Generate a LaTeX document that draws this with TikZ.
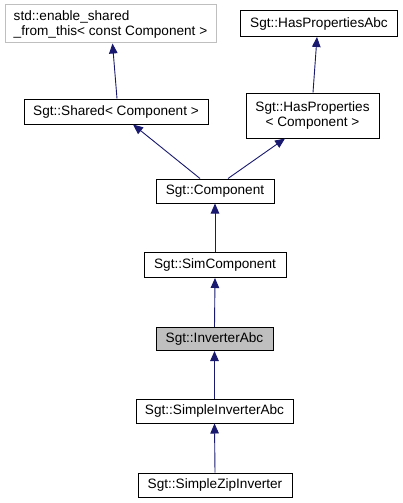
\documentclass[tikz,border=0pt]{standalone}
\usepackage{fontspec}
\setmainfont{Liberation Sans}
\usetikzlibrary{arrows.meta}
\definecolor{edgeblue}{HTML}{191970}
\definecolor{lightborder}{HTML}{BFBFBF}
\definecolor{grayfill}{HTML}{BFBFBF}
\begin{document}
\begin{tikzpicture}[x=1pt,y=-1pt,
  cls/.style={draw=black, fill=white, line width=1pt, inner sep=0pt, font=\fontsize{13.6}{15}\selectfont, align=center},
  inh/.style={draw=edgeblue, line width=0.9pt, -{Triangle[length=10pt,width=8.5pt]}, color=edgeblue}]
\useasboundingbox[fill=white] (0,0) rectangle (402,503);
\node[cls, draw=lightborder, align=left, minimum width=211pt, minimum height=38pt] (es) at (110.5,24) {std::enable\_shared\\\_from\_this< const Component >};
\node[cls, minimum width=157pt, minimum height=26pt] (hpa) at (319,23.5) {Sgt::HasPropertiesAbc};
\node[cls, minimum width=184pt, minimum height=25pt] (sh) at (116,111.5) {Sgt::Shared< Component >};
\node[cls, minimum width=133pt, minimum height=45pt] (hp) at (312.5,115.5) {Sgt::HasProperties\\< Component >};
\node[cls, minimum width=118pt, minimum height=24pt] (comp) at (215,191) {Sgt::Component};
\node[cls, minimum width=142pt, minimum height=25pt] (sim) at (215,265) {Sgt::SimComponent};
\node[cls, fill=grayfill, minimum width=117pt, minimum height=23pt] (inv) at (214.5,339) {Sgt::InverterAbc};
\node[cls, minimum width=157pt, minimum height=24pt] (sia) at (214.5,411) {Sgt::SimpleInverterAbc};
\node[cls, minimum width=154pt, minimum height=24pt] (szi) at (215,485) {Sgt::SimpleZipInverter};
\draw[inh] ([xshift=1pt]sh.north) -- ([xshift=2pt]es.south);
\draw[inh] ([xshift=0.5pt]hp.north) -- ([xshift=-2pt]hpa.south);
\draw[inh] ([xshift=-15pt]comp.north) -- ([xshift=17pt]sh.south);
\draw[inh] ([xshift=13pt]comp.north) -- ([xshift=-27.5pt]hp.south);
\draw[inh] (sim.north) -- (comp.south);
\draw[inh] (inv.north) -- (sim.south);
\draw[inh] (sia.north) -- (inv.south);
\draw[inh] (szi.north) -- (sia.south);
\end{tikzpicture}
\end{document}
